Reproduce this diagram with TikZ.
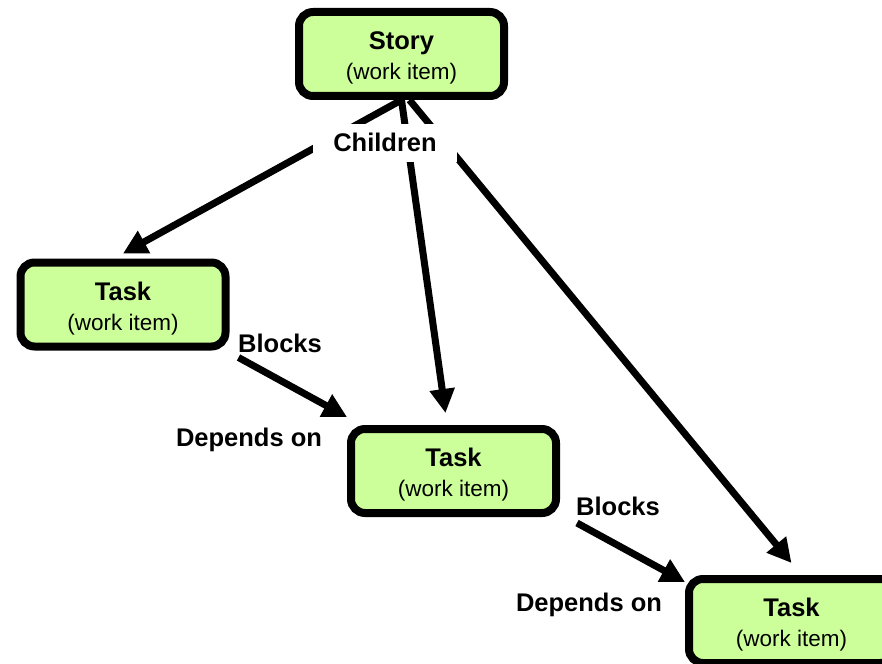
\documentclass[tikz,border=0pt]{standalone}
\usepackage{fontspec}
\setmainfont{Liberation Sans}
\usetikzlibrary{positioning,arrows.meta}
\definecolor{itemgreen}{HTML}{CCFF99}
\tikzset{block/.style={draw, line width=8pt, rounded corners=14pt, fill=itemgreen, minimum width=205pt, minimum height=84pt, align=center, font=\fontsize{25.5}{30}\selectfont\bfseries}, line/.style={line width=7pt, -{Triangle[length=24pt,width=24pt]}}, tag/.style={anchor=base, font=\fontsize{25.5}{30}\selectfont\bfseries}}
\newcommand{\workitem}[1]{\rule{0pt}{26pt}#1\\{\fontsize{22.5}{30}\selectfont\mdseries (work item)}}

\begin{document}
\begin{tikzpicture}[x=1pt,y=-1pt]
    \useasboundingbox (0,0) rectangle (882,663);
    \node[block] (story) at (401.5,54)  {\workitem{Story}};
    \node[block] (t1)    at (123,304.5) {\workitem{Task}};
    \node[block] (t2)    at (453.5,471) {\workitem{Task}};
    \node[block] (t3)    at (791.5,621) {\workitem{Task}};

    \draw[line]               (story.south)-- ([yshift=5pt]t1.north);
    \draw[line]               (story.south)-- ([xshift=-8pt,yshift=12pt]t2.north);
    \draw[line]               ([xshift=8pt]story.south)-- ([yshift=12pt]t3.north);
    \draw[line]               ([shift={(9pt,-7pt)}]t1.south east)-- ([yshift=8pt]t2.north west);
    \draw[line]               ([shift={(17pt,-6pt)}]t2.south east)-- ([yshift=-7pt]t3.north west);

    \node[tag,fill=white,inner xsep=20pt,inner ysep=10pt] (ch) at (385,152) {Children};
    \node[tag] (b1) at (280,352) {Blocks};
    \node[tag] (d1) at (249,446) {Depends on};
    \node[tag] (b2) at (618,515) {Blocks};
    \node[tag] (d2) at (589,611) {Depends on};
\end{tikzpicture}
\end{document}
